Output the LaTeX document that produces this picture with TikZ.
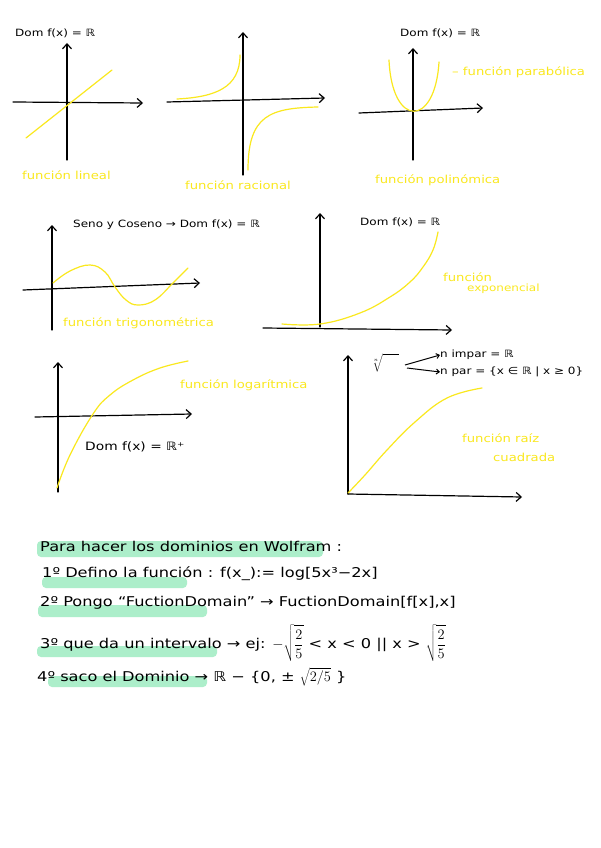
\documentclass[tikz,border=0pt]{standalone}
\usepackage{fontspec}
\setmainfont[FakeStretch=1.2]{DejaVu Sans}
\usetikzlibrary{arrows.meta}
\definecolor{hy}{RGB}{250,232,30}
\definecolor{hg}{RGB}{172,238,202}
\begin{document}
\begin{tikzpicture}[x=1pt,y=-1pt,
  ax/.style={line width=1.2pt,line cap=round,-{Straight Barb[length=5pt,width=9pt,line width=1.2pt]}},
  yc/.style={hy,line width=1.2pt,line cap=round},
  blab/.style={anchor=west,inner sep=0pt,font=\fontsize{10}{11}\selectfont},
  ylab/.style={anchor=west,inner sep=0pt,text=hy,font=\fontsize{11}{12}\selectfont},
  line/.style={anchor=west,inner sep=0pt,font=\fontsize{13.5}{15}\selectfont},
  hl/.style={fill=hg,draw=none,rounded corners=4pt},
  small/.style={line width=1pt,-{Straight Barb[length=3pt,width=5pt]}}]
\useasboundingbox (0,0) rectangle (600,848);
\fill[white] (0,0) rectangle (600,848);
% graph 1: lineal
\draw[ax] (13,102) -- (143,103);
\draw[ax] (67,160) -- (67,43);
\draw[yc] (26,138) -- (112,70);
\node[blab] (d1) at (15,33) {Dom f(x) = ℝ};
\node[ylab] (l1) at (22,175) {función lineal};
% graph 2: racional
\draw[ax] (167,102) -- (325,98);
\draw[ax] (243,175) -- (243,32);
\draw[yc] (177,99) .. controls (215,97) and (240,88) .. (240,55);
\draw[yc] (248,170) .. controls (248,115) and (270,108) .. (318,107);
\node[ylab] (l2) at (185,185) {función racional};
% graph 3: polinomica
\draw[ax] (359,113) -- (483,108);
\draw[ax] (413,160) -- (413,48);
\draw[yc] (389,60) .. controls (392,128) and (435,128) .. (439,62);
\node[blab] (d3) at (400,33) {Dom f(x) = ℝ};
\node[ylab] (p3) at (452,72) {– función parabólica};
\node[ylab] (l3) at (375,180) {función polinómica};
% graph 4: trigonometrica
\draw[ax] (23,290) -- (200,283);
\draw[ax] (52,330) -- (52,225);
\draw[yc] plot[smooth,tension=0.7] coordinates {(53,283) (70,271) (90,265) (105,272) (115,287) (126,300) (138,305) (155,300) (173,283) (188,268)};
\node[blab] (d4) at (73,225) {Seno y Coseno → Dom f(x) = ℝ};
\node[ylab] (l4) at (63,323) {función trigonométrica};
% graph 5: exponencial
\draw[ax] (263,328) -- (452,330);
\draw[ax] (320,327) -- (320,213);
\draw[yc] plot[smooth,tension=0.7] coordinates {(282,324) (320,324) (360,313) (390,297) (410,282) (423,267) (433,250) (438,232)};
\node[blab] (d5) at (360,222) {Dom f(x) = ℝ};
\node[ylab] (l5a) at (443,277) {función};
\node[ylab,font=\fontsize{10}{11}\selectfont] (l5b) at (467,289) {exponencial};
% graph 6: logaritmica
\draw[ax] (35,417) -- (192,414);
\draw[ax] (58,492) -- (58,362);
\draw[yc] plot[smooth,tension=0.7] coordinates {(57,488) (70,455) (93,414) (110,395) (133,380) (160,368) (188,361)};
\node[ylab] (l6) at (180,385) {función logarítmica};
\node[blab,font=\fontsize{11.5}{12}\selectfont] (d6) at (85,447) {Dom f(x) = ℝ⁺};
% graph 7: raiz
\draw[ax] (348,494) -- (522,497);
\draw[ax] (348,494) -- (348,355);
\draw[yc] plot[smooth,tension=0.7] coordinates {(348,493) (365,475) (387,450) (415,422) (447,398) (482,388)};
\node[inner sep=0pt] (r7) at (385,363) {$\displaystyle\sqrt[n]{\rule{0pt}{11pt}\hspace{16pt}}$};
\coordinate (a1) at (405,365);
\coordinate (a2) at (407,368);
\node[blab] (n1) at (440,355) {n impar = ℝ};
\node[blab] (n2) at (440,372) {n par = \{x ∈ ℝ | x ≥ 0\}};
\draw[small] (a1) -- (n1.west);
\draw[small] (a2) -- (n2.west);
\node[ylab] (l7a) at (462,438) {función raíz};
\node[ylab] (l7b) at (493,457) {cuadrada};
% bottom notes
\fill[hl] (37,541) rectangle (323,557);
\fill[hl] (42,577) rectangle (187,588);
\fill[hl] (38,605) rectangle (207,617);
\fill[hl] (37,646) rectangle (217,657);
\fill[hl] (48,676) rectangle (207,687);
\node[line] (b1) at (40,546) {Para hacer los dominios en Wolfram :};
\node[line] (b2) at (42,574) {1º Defino la función : f(x\_):= log[5x³−2x]};
\node[line] (b3) at (40,603) {2º Pongo “FuctionDomain” → FuctionDomain[f[x],x]};
\node[line] (b4) at (40,643) {3º que da un intervalo → ej: $\displaystyle-\sqrt{\frac{2}{5}}$ < x < 0 || x > $\displaystyle\sqrt{\frac{2}{5}}$};
\node[line] (b5) at (37,677) {4º saco el Dominio → ℝ − \{0, ± $\displaystyle\sqrt{2/5}$ \}};
\end{tikzpicture}
\end{document}
